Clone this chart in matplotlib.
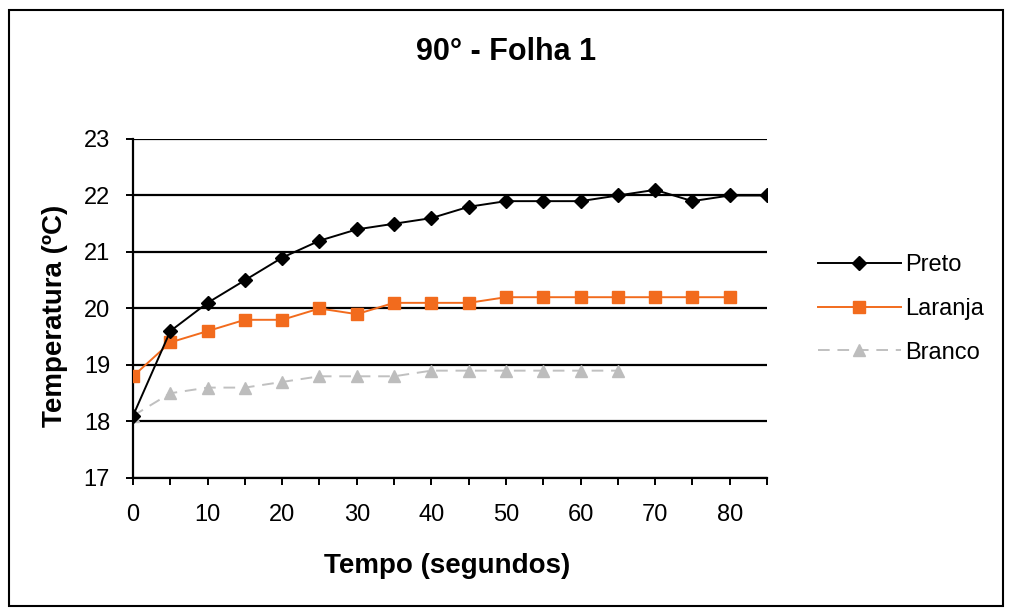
import matplotlib
matplotlib.use("Agg")
import matplotlib.pyplot as plt
from matplotlib.patches import Rectangle

plt.rcParams['font.family'] = ['Liberation Sans', 'DejaVu Sans']

# Data
tempo = [0, 5, 10, 15, 20, 25, 30, 35, 40, 45, 50, 55, 60, 65, 70, 75, 80, 85]
preto = [18.1, 19.6, 20.1, 20.5, 20.9, 21.2, 21.4, 21.5, 21.6, 21.8, 21.9, 21.9,
         21.9, 22.0, 22.1, 21.9, 22.0, 22.0]
laranja = [18.8, 19.4, 19.6, 19.8, 19.8, 20.0, 19.9, 20.1, 20.1, 20.1, 20.2, 20.2,
           20.2, 20.2, 20.2, 20.2, 20.2]
branco = [18.1, 18.5, 18.6, 18.6, 18.7, 18.8, 18.8, 18.8, 18.9, 18.9, 18.9, 18.9,
          18.9, 18.9]
xticks_major = [0, 10, 20, 30, 40, 50, 60, 70, 80]
yticks = [17, 18, 19, 20, 21, 22, 23]

title = "90° - Folha 1"
xlabel = "Tempo (segundos)"
ylabel = "Temperatura (ºC)"

W, H = 1012, 615
fig = plt.figure(figsize=(W / 100, H / 100), dpi=100)

# outer border
fig.patches.append(Rectangle((9 / W, 1 - 606 / H), (1003 - 9) / W, (606 - 10) / H,
                             transform=fig.transFigure, fill=False,
                             edgecolor='black', linewidth=1.5))

ax = fig.add_axes([133 / W, 1 - 478 / H, (767 - 133) / W, (478 - 139) / H])

ax.plot(tempo[:len(preto)], preto, color='black', linewidth=1.4, marker='D',
        markersize=7, markerfacecolor='black', markeredgecolor='black',
        label='Preto', zorder=5)
ax.plot(tempo[:len(laranja)], laranja, color='#F26B1D', linewidth=1.4, marker='s',
        markersize=8.5, markerfacecolor='#F26B1D', markeredgecolor='#F26B1D',
        label='Laranja', zorder=4)
ax.plot(tempo[:len(branco)], branco, color='#C0C0C0', linewidth=1.4,
        linestyle=(0, (6, 4)), marker='^', markersize=9,
        markerfacecolor='#BDBDBD', markeredgecolor='#BDBDBD',
        label='Branco', zorder=3)

ax.set_xlim(0, 85)
ax.set_ylim(17, 23)
ax.set_xticks(tempo)
ax.set_xticklabels([str(t) if t in xticks_major else '' for t in tempo])
ax.set_yticks(yticks)
ax.grid(axis='y', color='black', linewidth=1.6)
ax.set_axisbelow(True)
for side in ['top', 'right']:
    ax.spines[side].set_visible(False)
for side in ['left', 'bottom']:
    ax.spines[side].set_linewidth(1.6)
ax.tick_params(axis='both', direction='out', length=5, width=1.4, labelsize=17)
ax.tick_params(axis='y', pad=11.5)
ax.tick_params(axis='x', pad=14)

fig.text(506 / W, 1 - 52 / H, title, ha='center', va='center',
         fontsize=22, fontweight='bold')
fig.text(447 / W, 1 - 566 / H, xlabel, ha='center', va='center',
         fontsize=20, fontweight='bold')
fig.text(55 / W, 1 - 316 / H, ylabel, ha='center', va='center', rotation=90,
         fontsize=20, fontweight='bold')

leg = fig.legend(loc='center left', bbox_to_anchor=(818 / W, 1 - 309 / H),
                 frameon=False, fontsize=17, handlelength=3.5, borderpad=0,
                 handletextpad=0.2, labelspacing=0.92, borderaxespad=0)

fig.savefig('out.png', dpi=100)
